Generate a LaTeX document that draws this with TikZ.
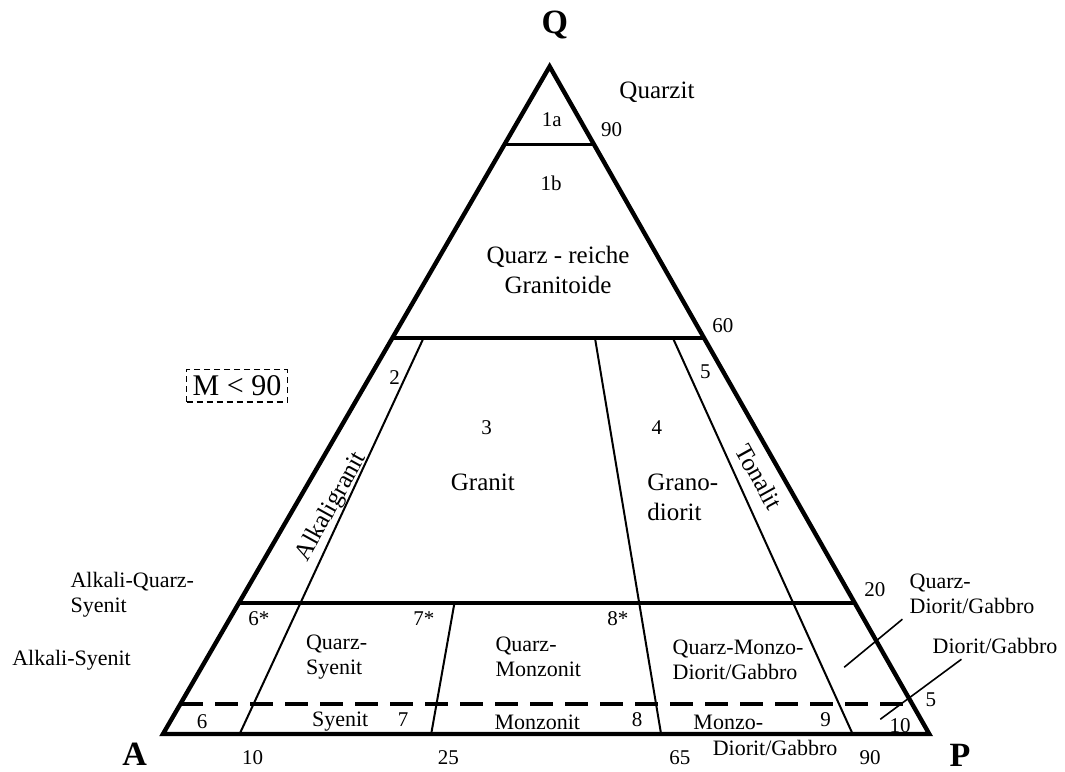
\documentclass[tikz,border=0pt]{standalone}
\usepackage{fontspec}
\setmainfont{Liberation Serif}
\usetikzlibrary{calc}

\tikzset{
  border/.style={line width=2.2pt,line join=miter},
  field/.style={line width=1.7pt},
  split/.style={line width=1pt},
  leader/.style={line width=0.8pt},
  num/.style={font=\fontsize{10.5}{12}\selectfont,inner sep=0pt},
  lbl/.style={font=\fontsize{11}{12.5}\selectfont,inner sep=0pt,align=left},
  biglbl/.style={font=\fontsize{12.5}{15}\selectfont,inner sep=0pt,align=center},
  corner/.style={font=\fontsize{17}{20}\selectfont\bfseries,inner sep=0pt},
}

\begin{document}
\begin{tikzpicture}[xscale=13.48,yscale=11.74]
  \pgfmathsetmacro{\xQ}{0.5046}
  \pgfmathsetmacro{\qNinety}{0.883}
  \pgfmathsetmacro{\qSixty}{0.593}
  \pgfmathsetmacro{\qTwenty}{0.196}
  \pgfmathsetmacro{\qFive}{0.045}

  \useasboundingbox (-0.2125,-0.0554) rectangle (1.176,1.0988);

  \coordinate (A) at (0,0);
  \coordinate (P) at (1,0);
  \coordinate (Q) at (\xQ,1);
  \coordinate (b10) at (0.10,0);
  \coordinate (b35) at (0.35,0);
  \coordinate (b65) at (0.65,0);
  \coordinate (b90) at (0.90,0);

  % Feldergrenzen
  \draw[field] ($(A)!\qNinety!(Q)$) -- ($(P)!\qNinety!(Q)$);
  \draw[field] ($(A)!\qSixty!(Q)$) -- ($(P)!\qSixty!(Q)$);
  \draw[field] ($(A)!\qTwenty!(Q)$) -- ($(P)!\qTwenty!(Q)$);
  \draw[field,dash pattern=on 11.5pt off 6pt] ($(A)!\qFive!(Q)$) -- ($(P)!\qFive!(Q)$);
  \draw[split] ($(b10)!\qSixty!(Q)$) -- (b10);
  \draw[split] ($(b35)!\qTwenty!(Q)$) -- (b35);
  \draw[split] ($(b65)!\qSixty!(Q)$) -- (b65);
  \draw[split] ($(b90)!\qSixty!(Q)$) -- (b90);
  \draw[border] (A) -- (P) -- (Q) -- cycle;

  % Ecken
  \node[corner] (labQ) at (0.511,1.061) {Q};
  \node[corner] (labA) at (-0.037,-0.030) {A};
  \node[corner] (labP) at (1.039,-0.032) {P};

  % oberer Teil
  \node[biglbl] (quarzit) at (0.644,0.960) {Quarzit};
  \node[num] (f1a) at (0.507,0.919) {1a};
  \node[num] (q90) at (0.585,0.904) {90};
  \node[num] (f1b) at (0.506,0.825) {1b};
  \node[biglbl] (reiche) at (0.515,0.695) {Quarz - reiche\\Granitoide};
  \node[num] (q60) at (0.730,0.611) {60};
  \node[draw,densely dashed,line width=0.6pt,inner sep=3pt,
        font=\fontsize{15}{17}\selectfont] (mbox) at (0.0965,0.521) {M < 90};

  % Granitoide
  \node[num] (f2) at (0.302,0.533) {2};
  \node[num] (f5) at (0.707,0.542) {5};
  \node[num] (f3) at (0.422,0.458) {3};
  \node[num] (f4) at (0.644,0.458) {4};
  \node[biglbl] (granit) at (0.417,0.376) {Granit};
  \node[biglbl,align=left,anchor=west] (grano) at (0.631,0.355) {Grano-\\diorit};
  \node[biglbl,rotate=61] (alkgr) at (0.220,0.340) {Alkaligranit};
  \node[biglbl,rotate=-61] (tonalit) at (0.777,0.385) {Tonalit};
  \node[num] (q20) at (0.928,0.216) {20};

  % Quarz-Felder
  \node[lbl,anchor=west] (aqs) at (-0.121,0.209) {Alkali-Quarz-\\Syenit};
  \node[lbl,anchor=west] (as) at (-0.197,0.111) {Alkali-Syenit};
  \node[num] (f6s) at (0.125,0.172) {6*};
  \node[num] (f7s) at (0.340,0.172) {7*};
  \node[num] (f8s) at (0.593,0.172) {8*};
  \node[lbl,anchor=west] (qsy) at (0.186,0.115) {Quarz-\\Syenit};
  \node[lbl,anchor=west] (qmz) at (0.433,0.115) {Quarz-\\Monzonit};
  \node[lbl,anchor=west] (qmd) at (0.664,0.111) {Quarz-Monzo-\\Diorit/Gabbro};
  \node[lbl,anchor=west] (qdg) at (0.973,0.210) {Quarz-\\Diorit/Gabbro};
  \node[lbl,anchor=west] (dg) at (1.003,0.132) {Diorit/Gabbro};
  \node[num] (q5) at (1.001,0.051) {5};

  % unterste Reihe
  \node[num] (f6) at (0.051,0.018) {6};
  \node[lbl] (sy) at (0.231,0.018) {Syenit};
  \node[num] (f7) at (0.313,0.021) {7};
  \node[lbl] (mz) at (0.488,0.018) {Monzonit};
  \node[num] (f8) at (0.618,0.021) {8};
  \node[lbl] (mzd) at (0.737,0.018) {Monzo-};
  \node[lbl] (mzdg) at (0.798,-0.021) {Diorit/Gabbro};
  \node[num] (f9) at (0.864,0.021) {9};
  \node[num] (f10) at (0.961,0.013) {10};

  % Achse A-P
  \node[num] (p10) at (0.117,-0.036) {10};
  \node[num] (p25) at (0.372,-0.036) {25};
  \node[num] (p65) at (0.674,-0.036) {65};
  \node[num] (p90) at (0.922,-0.036) {90};

  % Hinweislinien
  \coordinate (qdgIn) at (0.889,0.100);
  \coordinate (qdgOut) at (0.965,0.172);
  \coordinate (dgIn) at (0.936,0.022);
  \coordinate (dgOut) at (1.042,0.112);
  \draw[leader] (qdgIn) -- (qdgOut);
  \draw[leader] (dgIn) -- (dgOut);
\end{tikzpicture}
\end{document}
